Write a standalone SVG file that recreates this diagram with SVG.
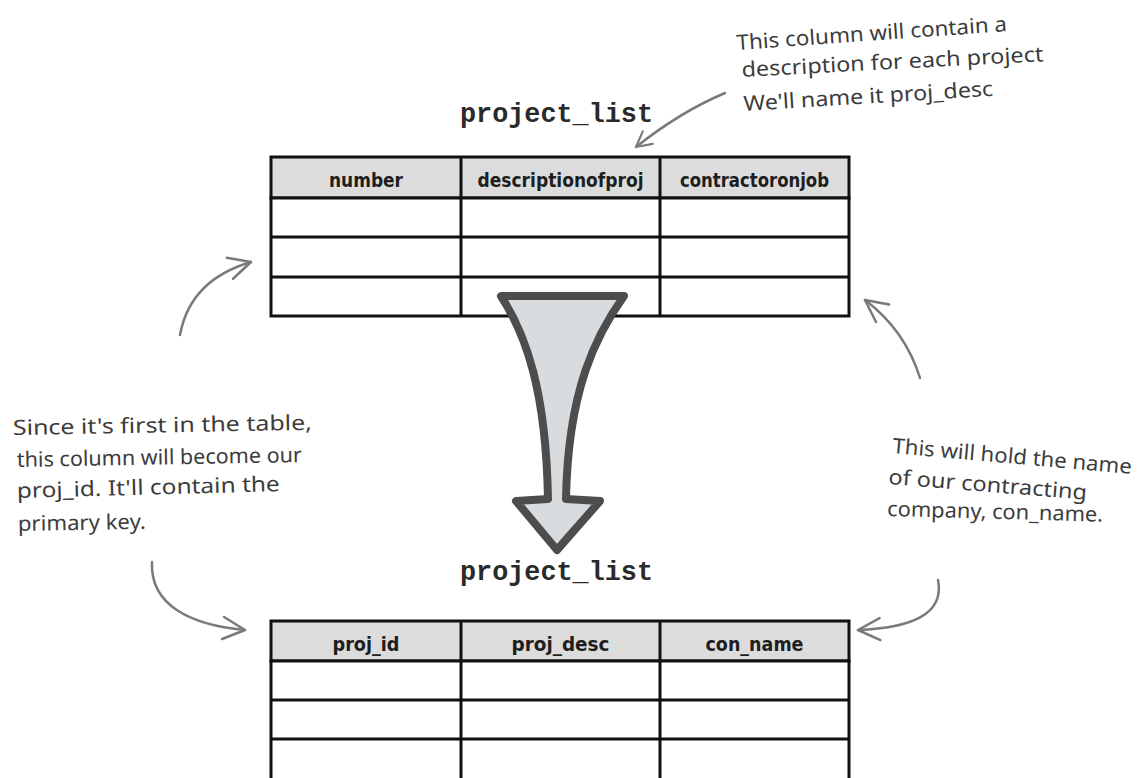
<svg xmlns="http://www.w3.org/2000/svg" width="1137" height="778" viewBox="0 0 1137 778">
  <style>
    .cell { fill: #ffffff; stroke: #111111; stroke-width: 3; }
    .head { fill: #dcdcdc; stroke: #111111; stroke-width: 3; }
    .grid { stroke: #111111; stroke-width: 3; fill: none; }
    .hdr { font-family: "DejaVu Sans Condensed", "DejaVu Sans", sans-serif; font-weight: bold; font-size: 19.5px; fill: #1e1e1e; text-anchor: middle; }
    .title { font-family: "Liberation Mono", "Courier New", monospace; font-weight: bold; font-size: 27px; fill: #2a2a2a; }
    .note { font-family: "Noto Sans", "DejaVu Sans", sans-serif; font-size: 21px; fill: #3c3c3c; }
    .conn { fill: none; stroke: #7a7a7a; stroke-width: 2.5; stroke-linecap: round; }
  </style>
  <defs>
    <marker id="head" viewBox="0 0 30 30" refX="27" refY="15" markerWidth="30" markerHeight="30" markerUnits="userSpaceOnUse" orient="auto">
      <path d="M5,4 L27,15 L5,26" fill="none" stroke="#7a7a7a" stroke-width="2.5" stroke-linecap="round" stroke-linejoin="round"/>
    </marker>
    <marker id="headSmall" viewBox="0 0 20 20" refX="18" refY="10" markerWidth="20" markerHeight="20" markerUnits="userSpaceOnUse" orient="auto">
      <path d="M3,2 L18,10 L3,18" fill="none" stroke="#7a7a7a" stroke-width="2.2" stroke-linecap="round" stroke-linejoin="round"/>
    </marker>
  </defs>
  <rect width="1137" height="778" fill="#ffffff"/>

  <g id="title-top">
    <text class="title" x="460" y="122" textLength="193" lengthAdjust="spacingAndGlyphs">project_list</text>
  </g>

  <g id="table-top">
    <rect class="head" x="271" y="157" width="578" height="41"/>
    <rect class="cell" x="271" y="198" width="578" height="118"/>
    <line class="grid" x1="271" y1="237" x2="849" y2="237"/>
    <line class="grid" x1="271" y1="277" x2="849" y2="277"/>
    <line class="grid" x1="461" y1="157" x2="461" y2="316"/>
    <line class="grid" x1="660" y1="157" x2="660" y2="316"/>
    <text class="hdr" x="366" y="187" textLength="74" lengthAdjust="spacingAndGlyphs">number</text>
    <text class="hdr" x="560.5" y="187" textLength="166" lengthAdjust="spacingAndGlyphs">descriptionofproj</text>
    <text class="hdr" x="754.5" y="187" textLength="149" lengthAdjust="spacingAndGlyphs">contractoronjob</text>
  </g>

  <g id="big-arrow">
    <path d="M501,296 L624,296 C596,335 568,390 566,499 L600,501 L557,550 L516,501 L548,499 C546,390 526,335 501,296 Z" fill="#d9dcdf" stroke="#4d4d4d" stroke-width="8" stroke-linejoin="round"/>
  </g>

  <g id="title-bottom">
    <text class="title" x="460" y="580" textLength="193" lengthAdjust="spacingAndGlyphs">project_list</text>
  </g>

  <g id="table-bottom">
    <rect class="head" x="271" y="621" width="578" height="40"/>
    <rect class="cell" x="271" y="661" width="578" height="120"/>
    <line class="grid" x1="271" y1="700" x2="849" y2="700"/>
    <line class="grid" x1="271" y1="739" x2="849" y2="739"/>
    <line class="grid" x1="461" y1="621" x2="461" y2="781"/>
    <line class="grid" x1="660" y1="621" x2="660" y2="781"/>
    <text class="hdr" x="366" y="651" textLength="67" lengthAdjust="spacingAndGlyphs">proj_id</text>
    <text class="hdr" x="560.5" y="651" textLength="98" lengthAdjust="spacingAndGlyphs">proj_desc</text>
    <text class="hdr" x="754.5" y="651" textLength="98" lengthAdjust="spacingAndGlyphs">con_name</text>
  </g>

  <g id="note-top">
    <text class="note" x="737" y="50" transform="rotate(-4 737 50)" textLength="271" lengthAdjust="spacingAndGlyphs">This column will contain a</text>
    <text class="note" x="742" y="77" transform="rotate(-3 742 77)" textLength="302" lengthAdjust="spacingAndGlyphs">description for each project</text>
    <text class="note" x="744" y="111" transform="rotate(-3.5 744 111)" textLength="250" lengthAdjust="spacingAndGlyphs">We'll name it proj_desc</text>
  </g>

  <g id="note-left">
    <text class="note" x="13" y="435" transform="rotate(-1 13 435)" textLength="299" lengthAdjust="spacingAndGlyphs">Since it's first in the table,</text>
    <text class="note" x="17" y="467" transform="rotate(-1 17 467)" textLength="285" lengthAdjust="spacingAndGlyphs">this column will become our</text>
    <text class="note" x="17" y="498" transform="rotate(-1.5 17 498)" textLength="263" lengthAdjust="spacingAndGlyphs">proj_id. It'll contain the</text>
    <text class="note" x="18" y="531" transform="rotate(-1 18 531)" textLength="128" lengthAdjust="spacingAndGlyphs">primary key.</text>
  </g>

  <g id="note-right">
    <text class="note" x="892" y="453" transform="rotate(5 892 453)" textLength="240" lengthAdjust="spacingAndGlyphs">This will hold the name</text>
    <text class="note" x="888" y="484" transform="rotate(4.5 888 484)" textLength="199" lengthAdjust="spacingAndGlyphs">of our contracting</text>
    <text class="note" x="887" y="516" transform="rotate(1.5 887 516)" textLength="216" lengthAdjust="spacingAndGlyphs">company, con_name.</text>
  </g>

  <g id="connectors">
    <path class="conn" d="M725,93 Q680,112 636,147" marker-end="url(#headSmall)"/>
    <path class="conn" d="M180,335 Q190,280 251,262" marker-end="url(#head)"/>
    <path class="conn" d="M152,562 C150,605 190,625 245,630" marker-end="url(#head)"/>
    <path class="conn" d="M920,378 Q905,330 865,300" marker-end="url(#head)"/>
    <path class="conn" d="M938,580 C945,615 910,628 858,630" marker-end="url(#head)"/>
  </g>
</svg>
